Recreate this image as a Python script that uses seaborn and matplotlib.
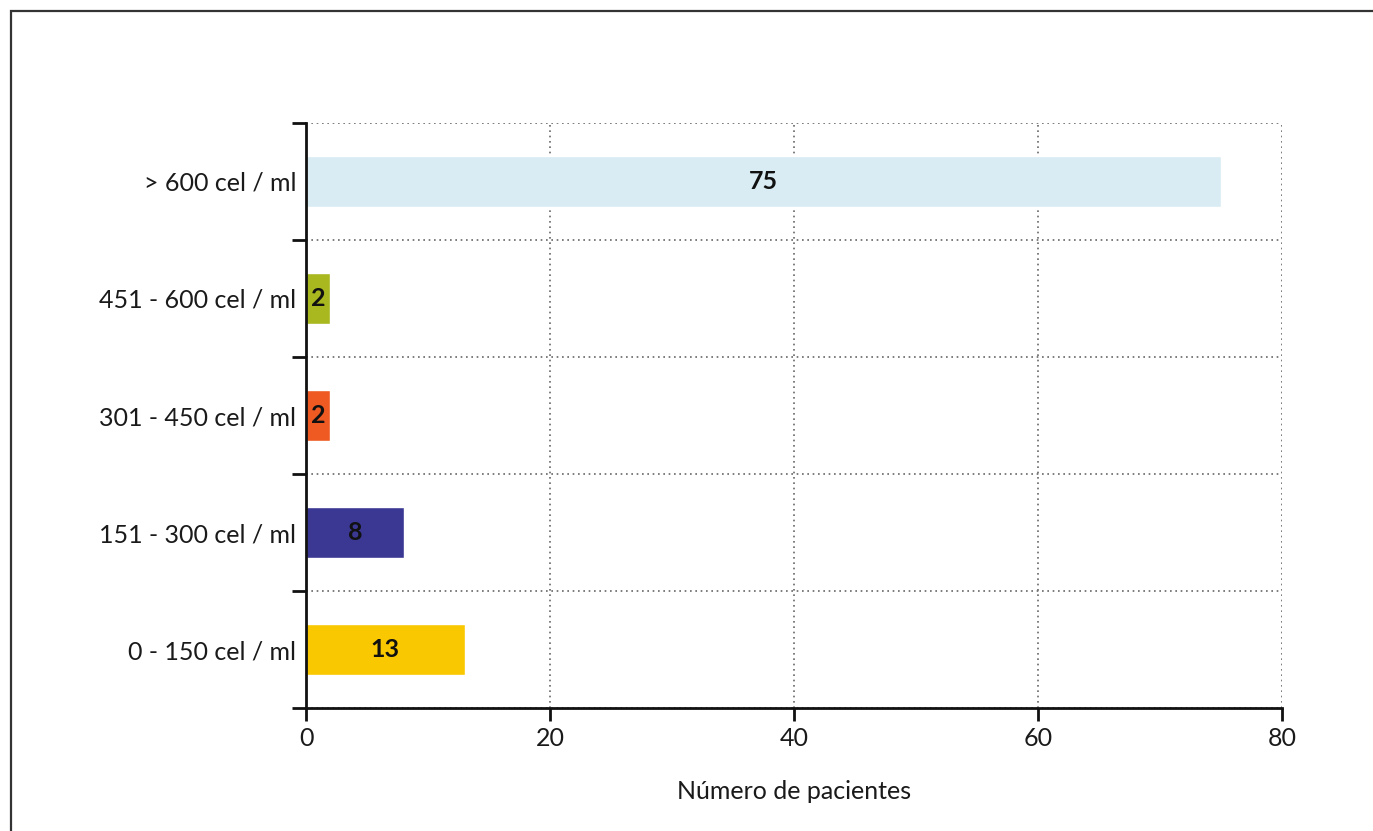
import matplotlib
matplotlib.use("Agg")
import matplotlib.pyplot as plt
from matplotlib.patches import Rectangle
from matplotlib.ticker import FixedLocator
import seaborn as sns
import pandas as pd

# CD4 count groups (top to bottom) and number of patients in each
categories = ["> 600 cel / ml", "451 - 600 cel / ml", "301 - 450 cel / ml",
              "151 - 300 cel / ml", "0 - 150 cel / ml"]
patients = [75, 2, 2, 8, 13]
bar_colors = ["#d9ecf4", "#a9b81f", "#ee5a22", "#3b3894", "#f9c800"]
x_ticks = [0, 20, 40, 60, 80]
x_label = "Número de pacientes"

sns.set_theme(style="white")
plt.rcParams["font.family"] = ["Lato", "DejaVu Sans"]

df = pd.DataFrame({"grupo": categories, "pacientes": patients})

fig = plt.figure(figsize=(13.73, 8.31), dpi=100)
ax = fig.add_axes([0.2229, 0.148, 0.7108, 0.704])

sns.barplot(data=df, x="pacientes", y="grupo", hue="grupo", order=categories,
            palette=bar_colors, orient="h", width=0.43, legend=False,
            saturation=1, ax=ax)

ax.set_xlim(0, 80)
ax.set_ylim(len(categories) - 0.5, -0.5)
ax.set_xticks(x_ticks)
ax.set_xticklabels([str(t) for t in x_ticks], fontsize=18, color="#1a1a1a")
ax.set_ylabel("")
ax.set_xlabel(x_label, fontsize=18, color="#1a1a1a", labelpad=21)

# category labels sit between boundary tick marks
ax.tick_params(axis="y", which="major", length=0, pad=7, labelsize=18,
               labelcolor="#1a1a1a")
ax.yaxis.set_minor_locator(FixedLocator([i - 0.5 for i in range(len(categories) + 1)]))
ax.tick_params(axis="y", which="minor", length=10, width=2, color="#111111",
               direction="out", left=True)
ax.tick_params(axis="x", which="major", length=9, width=2, color="#111111",
               direction="out", bottom=True, pad=5)

# dotted grid
ax.grid(False)
ax.xaxis.grid(True, which="major", linestyle=(0, (1, 2.2)), linewidth=1.2,
              color="#666666")
ax.yaxis.grid(True, which="minor", linestyle=(0, (1, 2.2)), linewidth=1.2,
              color="#666666")
ax.set_axisbelow(True)

for side in ["top", "right"]:
    ax.spines[side].set_visible(False)
for side in ["left", "bottom"]:
    ax.spines[side].set_color("#111111")
    ax.spines[side].set_linewidth(2)

# value labels centred on each bar
for i, v in enumerate(patients):
    ax.text(v / 2, i, str(v), ha="center", va="center", fontsize=18,
            fontweight="bold", color="#111111")

# page frame
fig.patches.append(Rectangle((11 / 1373, -0.05), 1.1, 1 - 11 / 831 + 0.05,
                             transform=fig.transFigure, fill=False,
                             edgecolor="#333333", linewidth=1.6))

fig.savefig("out.png", dpi=100)
